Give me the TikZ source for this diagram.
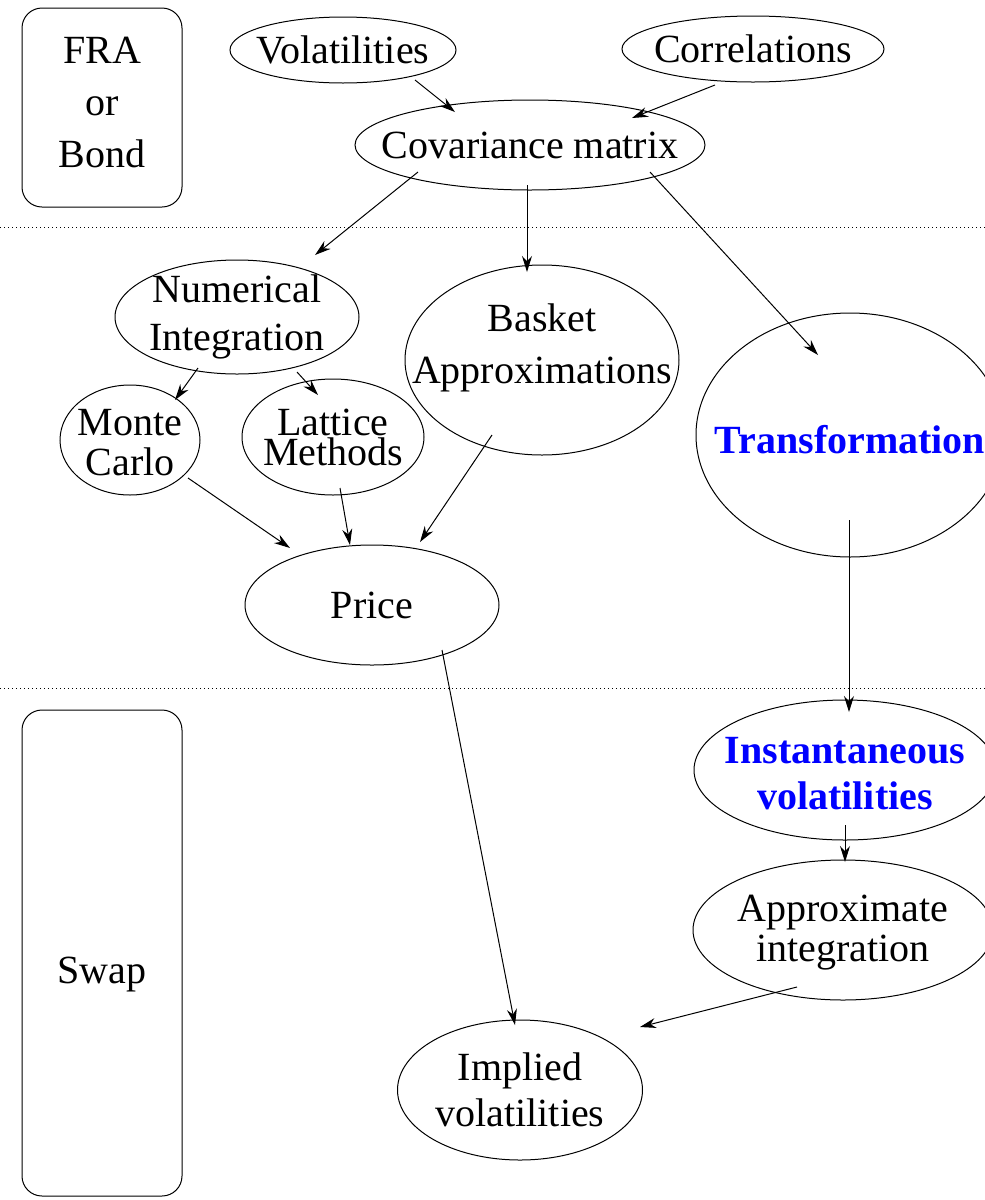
\documentclass[tikz,border=0pt]{standalone}
\usepackage{fontspec}
\setmainfont{Liberation Serif}
\usetikzlibrary{shapes.geometric,arrows.meta,calc}

\tikzset{
  oval/.style={draw, ellipse, inner sep=0pt, line width=0.5pt},
  panel/.style={draw, rectangle, rounded corners=10pt, inner sep=0pt, line width=0.5pt},
  txt/.style={align=center, font=\fontsize{20}{24}\selectfont, inner sep=0pt},
  hot/.style={txt, text=blue, font=\fontsize{20}{23}\selectfont\bfseries},
  flow/.style={-{Stealth[length=8pt,width=5pt]}, line width=0.5pt},
  sep/.style={line width=0.5pt, dash pattern=on 0.5pt off 1.5pt}
}

\begin{document}
\begin{tikzpicture}[x=0.5pt, y=-0.5pt]
  \useasboundingbox (0,0) rectangle (985,1200);

  % product boxes
  \node [panel, minimum width=80pt, minimum height=99.5pt, label={[txt, font=\fontsize{20}{26}\selectfont, yshift=2.5pt]center:FRA\\or\\Bond}] (fra) at (102,107.5) {};
  \node [panel, minimum width=80pt, minimum height=243pt, label={[txt, yshift=-11pt]center:Swap}] (swap) at (102,953) {};

  % section separators
  \draw [sep] (0,227) -- (985,227);
  \draw [sep] (0,688) -- (985,688);

  % inputs
  \node [oval, minimum width=113pt, minimum height=33pt, label={[txt]center:Volatilities}] (vol) at (343,50) {};
  \node [oval, minimum width=131pt, minimum height=33pt, label={[txt]center:Correlations}] (corr) at (753,49) {};
  \node [oval, minimum width=175pt, minimum height=45pt, label={[txt]center:Covariance matrix}] (cov) at (530,145) {};

  % pricing methods
  \node [oval, minimum width=122pt, minimum height=57pt, label={[txt]center:Numerical\\Integration}] (numint) at (237,317) {};
  \node [oval, minimum width=137pt, minimum height=95pt, label={[txt, font=\fontsize{20}{26}\selectfont, yshift=6pt]center:Basket\\Approximations}] (basket) at (542,360) {};
  \node [oval, minimum width=154pt, minimum height=122pt, label={[hot, yshift=-2.5pt]center:Transformation}] (trans) at (850,435) {};
  \node [oval, minimum width=70pt, minimum height=55pt, label={[txt, font=\fontsize{20}{20}\selectfont, yshift=-1.5pt]center:Monte\\Carlo}] (monte) at (130,440) {};
  \node [oval, minimum width=91pt, minimum height=58pt, label={[txt, font=\fontsize{20}{15}\selectfont]center:Lattice\\Methods}] (lattice) at (333,437) {};
  \node [oval, minimum width=127pt, minimum height=60pt, label={[txt]center:Price}] (price) at (372,605) {};

  % swap side
  \node [oval, minimum width=151pt, minimum height=70pt, label={[hot, yshift=-2pt]center:Instantaneous\\volatilities}] (inst) at (845,770) {};
  \node [oval, minimum width=150pt, minimum height=70pt, label={[txt, font=\fontsize{20}{20}\selectfont, yshift=-1.5pt]center:Approximate\\integration}] (approx) at (843,930) {};
  \node [oval, minimum width=122.5pt, minimum height=70pt, label={[txt, font=\fontsize{20}{23}\selectfont]center:Implied\\volatilities}] (impl) at (520,1090) {};

  % connectors
  \draw [flow] ($(vol)+(72,30)$) -- ($(cov)+(-75,-33)$);
  \draw [flow] ($(corr)+(-38,36)$) -- ($(cov)+(102,-27)$);
  \draw [flow] ($(cov)+(-112,27)$) -- ($(numint)+(78,-62)$);
  \draw [flow] ($(cov)+(-3,40)$) -- ($(basket)+(-15,-88)$);
  \draw [flow] ($(cov)+(120,27)$) -- ($(trans)+(-32,-80)$);
  \draw [flow] ($(numint)+(-39,51)$) -- ($(monte)+(45,-40)$);
  \draw [flow] ($(numint)+(60,55)$) -- ($(lattice)+(-15,-42)$);
  \draw [flow] ($(monte)+(58,38)$) -- ($(price)+(-82,-57)$);
  \draw [flow] ($(lattice)+(7,51)$) -- ($(price)+(-22,-60)$);
  \draw [flow] ($(basket)+(-50,75)$) -- ($(price)+(48,-63)$);
  \draw [flow] ($(trans)+(-1,85)$) -- ($(inst)+(4,-58)$);
  \draw [flow] ($(price)+(70,45)$) -- ($(impl)+(-5,-65)$);
  \draw [flow] ($(inst)+(0,55)$) -- ($(approx)+(2,-68)$);
  \draw [flow] ($(approx)+(-46,57)$) -- ($(impl)+(120,-63)$);
\end{tikzpicture}
\end{document}
